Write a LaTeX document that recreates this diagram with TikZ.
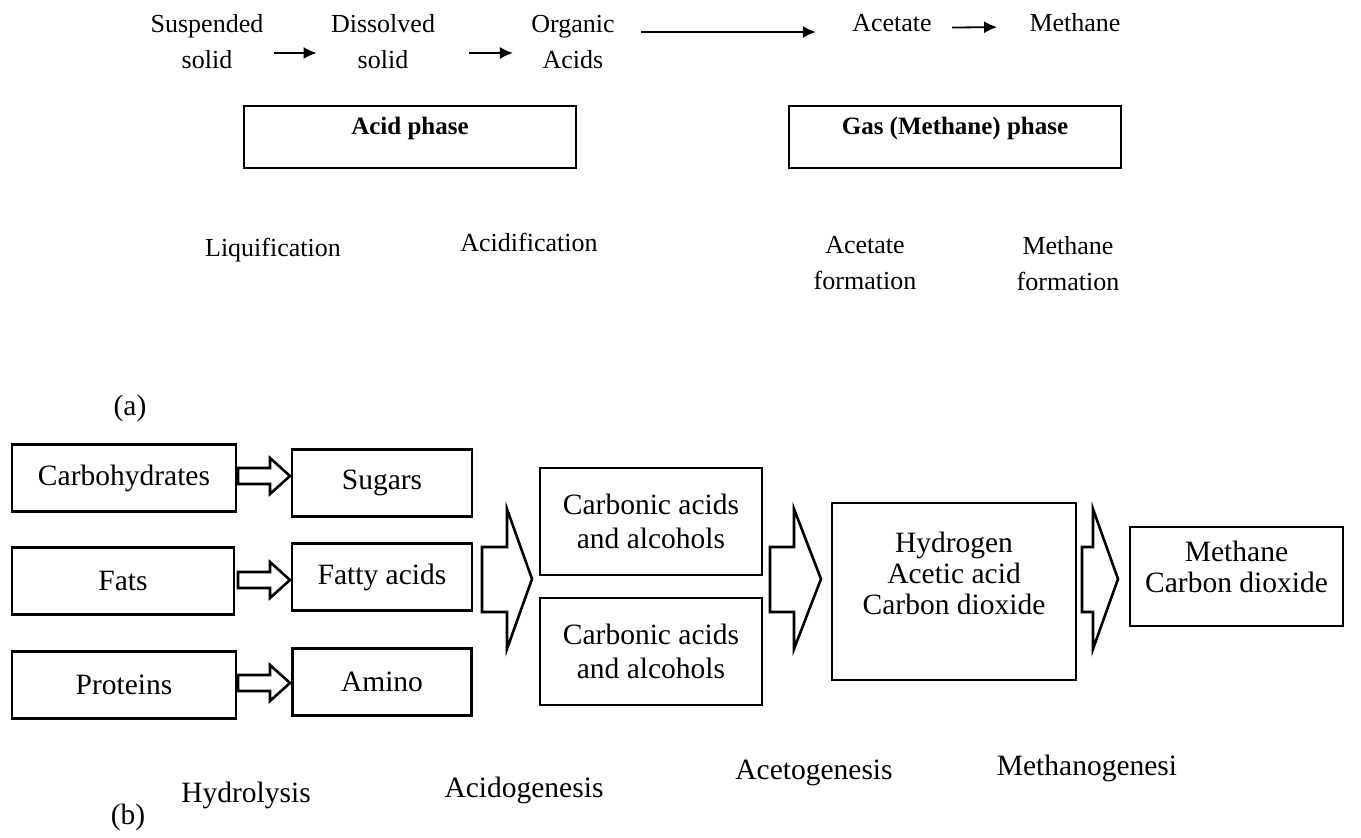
\documentclass[tikz,border=0pt]{standalone}
\usepackage{fontspec}
\setmainfont{Liberation Serif}
\usetikzlibrary{arrows.meta}
\tikzset{
  toptxt/.style={inner sep=0pt, align=center, font=\fontsize{13}{18}\selectfont},
  phasebox/.style={draw, line width=0.7pt, minimum width=166pt, minimum height=31pt, inner sep=0pt},
  phasetxt/.style={inner sep=0pt, anchor=base, font=\fontsize{12.5}{15}\selectfont\bfseries},
  toparr/.style={line width=0.9pt, -{Latex[length=6.5pt,width=6pt]}},
  procbox/.style={draw, line width=1.4pt, inner sep=0pt, align=center, font=\fontsize{14.75}{17}\selectfont},
  boxtxt/.style={inner sep=0pt, align=center, font=\fontsize{14.75}{15.5}\selectfont},
  hollow/.style={draw, line width=1.3pt, line join=miter},
  steplbl/.style={inner sep=0pt, font=\fontsize{14.75}{17}\selectfont},
}
\begin{document}
\begin{tikzpicture}[x=0.5pt,y=-0.5pt]
\useasboundingbox (0,0) rectangle (1361,838);
% (a) top scheme
\node[toptxt] (susp) at (207,42) {Suspended\\solid};
\node[toptxt] (diss) at (383,42) {Dissolved\\solid};
\node[toptxt] (orga) at (573,42) {Organic\\Acids};
\node[toptxt, anchor=base] (acet) at (892,32) {Acetate};
\node[toptxt, anchor=base] (meth) at (1075,32) {Methane};
\draw[toparr] ([xshift=5pt,yshift=-5.5pt]susp.east) -- ([xshift=-7pt,yshift=-5.5pt]diss.west);
\draw[toparr] ([xshift=17pt,yshift=-5.5pt]diss.east) -- ([xshift=-9pt,yshift=-5.5pt]orga.west);
\draw[toparr] ([xshift=13pt]orga.east |- acet.base) -- ([xshift=-18pt]acet.base west);
\draw[toparr] ([xshift=10pt,yshift=-2pt]acet.east) -- ([xshift=-16pt,yshift=-2pt]meth.west);
\node[phasebox] (acid) at (410,137) {};
\node[phasetxt] (acidt) at (acid.center |- 0,135) {Acid phase};
\node[phasebox] (gas) at (955,137) {};
\node[phasetxt] (gast) at (gas.center |- 0,135) {Gas (Methane) phase};
\node[toptxt, anchor=base] (liq) at (273,257) {Liquification};
\node[toptxt, anchor=base] (acidf) at (529,252) {Acidification};
\node[toptxt, anchor=north] (acetf) at (865,236) {Acetate\\formation};
\node[toptxt, anchor=north] (methf) at (1068,236) {Methane\\formation};
\node[steplbl] (la) at (130,408) {(a)};
% (b) bottom scheme
\node[procbox, minimum width=112pt, minimum height=33.5pt] (carb) at (124,478) {Carbohydrates};
\node[procbox, minimum width=90pt, minimum height=33.5pt] (sug) at (382,483) {Sugars};
\node[procbox, minimum width=111pt, minimum height=33.5pt] (fats) at (123,581) {Fats};
\node[procbox, minimum width=90pt, minimum height=33.5pt] (fatty) at (382,577) {Fatty acids};
\node[procbox, minimum width=112pt, minimum height=33.5pt] (prot) at (124,685) {Proteins};
\node[procbox, minimum width=89.5pt, minimum height=33.5pt] (amino) at (382,682) {Amino};
\node[procbox, minimum width=111pt, minimum height=53.5pt] (cab1) at (651,521.5) {Carbonic acids\\and alcohols};
\node[procbox, minimum width=111pt, minimum height=53.5pt] (cab2) at (651,651.5) {Carbonic acids\\and alcohols};
\node[procbox, minimum width=122pt, minimum height=88.5pt] (hyd) at (954,591.5) {};
\node[boxtxt] (hydt) at ([yshift=9pt]hyd.center) {Hydrogen\\Acetic acid\\Carbon dioxide};
\node[procbox, minimum width=106.5pt, minimum height=49.5pt] (mco) at (1236.5,576.5) {};
\node[boxtxt] (mcot) at ([yshift=5pt]mco.center) {Methane\\Carbon dioxide};
% hollow arrows
\foreach \y in {476,580,683}
  \draw[hollow] (238,\y-8) -- (270,\y-8) -- (270,\y-18) -- (290,\y) -- (270,\y+18) -- (270,\y+8) -- (238,\y+8) -- cycle;
\foreach \a/\b/\c in {482/507/532, 770/794/821, 1082/1093/1118}
  \draw[hollow] (\a,547) -- (\b,547) -- (\b,509) -- (\c,579) -- (\b,649) -- (\b,612) -- (\a,612) -- cycle;
\node[steplbl] (hydro) at (246,795) {Hydrolysis};
\node[steplbl] (acido) at (524,790) {Acidogenesis};
\node[steplbl] (aceto) at (814,773) {Acetogenesis};
\node[steplbl] (metho) at (1087,768) {Methanogenesi};
\node[steplbl] (lb) at (128,817) {(b)};
\end{tikzpicture}
\end{document}
